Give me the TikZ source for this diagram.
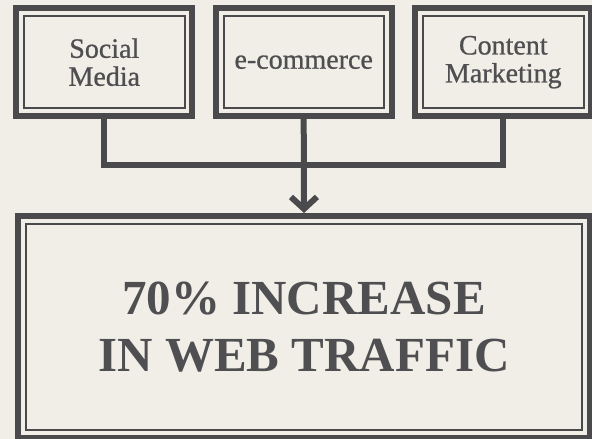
\documentclass[tikz,border=0pt]{standalone}
\usepackage{fontspec}
\setmainfont{Liberation Serif}
\newfontfamily\labelfont[FakeBold=0.8]{Liberation Serif}
\usetikzlibrary{arrows.meta}
\definecolor{paper}{HTML}{F0EEE7}
\definecolor{ink}{HTML}{4A4A4C}
\definecolor{inktext}{HTML}{4F4F51}
\tikzset{
  framed/.style={draw=ink, line width=6pt, inner sep=0pt, text=inktext, align=center,
    path picture={\draw[ink, line width=2pt]
      ([shift={(7.8pt,-7.8pt)}]path picture bounding box.north west) rectangle
      ([shift={(-7.8pt,7.8pt)}]path picture bounding box.south east);}},
  channel/.style={framed, minimum width=176pt, minimum height=108pt,
    font=\labelfont\fontsize{28}{28}\selectfont},
  link/.style={ink, line width=6pt}
}
\begin{document}
\begin{tikzpicture}[x=1pt,y=-1pt]
\useasboundingbox (0,0) rectangle (592,439);
\clip (0,0) rectangle (592,439);
\fill[paper] (0,0) rectangle (592,439);
% the three channels
\node[channel] (social) at (104.3,62.2) {Social\\Media};
\node[channel] (ecom) at (303.7,62.2) {e-commerce};
\node[channel] (content) at (503.3,62.2) {Content\\Marketing};
% the result
\node[framed, minimum width=572pt, minimum height=222pt,
  font=\fontsize{49}{57}\selectfont\bfseries] (traffic) at (304,327)
  {70\% INCREASE\\IN WEB TRAFFIC};
% connectors
\coordinate (bus) at (303.7,164.5);
\draw[link] (social.south) |- (bus) -| (content.south);
\draw[link,-{Straight Barb[length=12pt,width=26pt]}] (ecom.south) -- (traffic.north);
\end{tikzpicture}
\end{document}
